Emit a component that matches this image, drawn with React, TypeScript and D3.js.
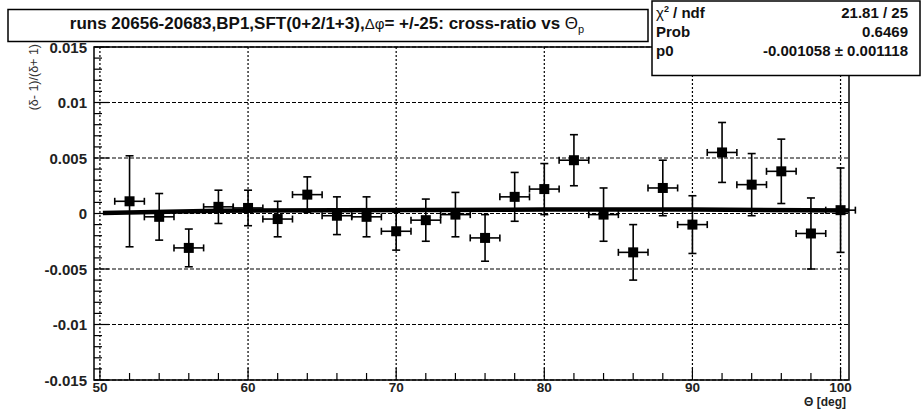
import React from "react";
import * as d3 from "d3";

// bin centres (deg) and measured cross-ratio with errors
const theta = [52, 54, 56, 58, 60, 62, 64, 66, 68, 70, 72, 74, 76, 78, 80, 82, 84, 86, 88, 90, 92, 94, 96, 98, 100];
const ratio = [0.0011, -0.0003, -0.0031, 0.0006, 0.0005, -0.0005, 0.0017, -0.0002, -0.0003, -0.0016, -0.0006, -0.0001, -0.0022, 0.0015, 0.0022, 0.0048, -0.0001, -0.0035, 0.0023, -0.001, 0.0055, 0.0026, 0.0038, -0.0018, 0.0003];
const ratioErr = [0.0041, 0.0021, 0.0017, 0.0015, 0.0016, 0.0016, 0.0016, 0.0017, 0.0018, 0.0017, 0.0019, 0.002, 0.0021, 0.0022, 0.0023, 0.0023, 0.0024, 0.0025, 0.0025, 0.0026, 0.0027, 0.0028, 0.0029, 0.0032, 0.0038];
const thetaErr = 1;

// fitted curve as drawn
const fitX = [50.2, 58, 80, 90, 100.57];
const fitY = [0.00005, 0.00025, 0.00035, 0.00035, 0.00028];

const xMajor = [50, 60, 70, 80, 90, 100];
const yMajor = [-0.015, -0.01, -0.005, 0, 0.005, 0.01, 0.015];
const yLabels = ["-0.015", "-0.01", "-0.005", "0", "0.005", "0.01", "0.015"];

const statNames = ["chi2", "Prob", "p0"];
const statValues = ["21.81 / 25", "0.6469", "-0.001058 \u00b1 0.001118"];

const FONT = "'Liberation Sans', Arial, Helvetica, sans-serif";

export default function App() {
  const left = 94, right = 849, top = 47, bottom = 380;
  const x = d3.scaleLinear().domain([49.6, 100.57]).range([left, right]);
  const y = d3.scaleLinear().domain([-0.015, 0.015]).range([bottom, top]);

  const xMinor = d3.range(50, 100.01, 2);
  const yMinor = d3.range(-15, 15.01, 1).map((v) => v / 1000);

  const fitLine = d3
    .line<number>()
    .x((d, i) => x(fitX[i]))
    .y((d) => y(d));

  return (
    <svg
      width={921}
      height={411}
      style={{ position: "absolute", left: 0, top: 0, background: "#fff" }}
      fontFamily={FONT}
    >
      <rect x={0} y={0} width={921} height={411} fill="#fff" />

      {/* grid */}
      {xMajor.map((v) => (
        <line key={"gx" + v} x1={x(v)} x2={x(v)} y1={top} y2={bottom} stroke="#000" strokeWidth={1.2} strokeDasharray="2,2" />
      ))}
      {yMajor.map((v) => (
        <line key={"gy" + v} x1={left} x2={right} y1={y(v)} y2={y(v)} stroke="#000" strokeWidth={1.2} strokeDasharray="4,2" />
      ))}

      {/* ticks */}
      {xMinor.map((v) => (
        <line key={"tx" + v} x1={x(v)} x2={x(v)} y1={bottom} y2={bottom - (v % 10 === 0 ? 12 : 7)} stroke="#000" strokeWidth={1.2} />
      ))}
      {yMinor.map((v, i) => (
        <line key={"ty" + i} x1={left} x2={left + (i % 5 === 0 ? 15 : 8)} y1={y(v)} y2={y(v)} stroke="#000" strokeWidth={1.2} />
      ))}

      {/* fit */}
      <path d={fitLine(fitY) || ""} fill="none" stroke="#000" strokeWidth={4.5} />

      {/* data points */}
      {theta.map((t, i) => {
        const cx = x(t);
        const cy = y(ratio[i]);
        const yt = y(ratio[i] + ratioErr[i]);
        const yb = y(ratio[i] - ratioErr[i]);
        const xl = x(t - thetaErr);
        const xr = x(t + thetaErr);
        return (
          <g key={"p" + t} stroke="#000" strokeWidth={1.6}>
            <line x1={cx} x2={cx} y1={yt} y2={yb} />
            <line x1={xl} x2={xr} y1={cy} y2={cy} />
            <line x1={cx - 4} x2={cx + 4} y1={yt} y2={yt} />
            <line x1={cx - 4} x2={cx + 4} y1={yb} y2={yb} />
            <line x1={xl} x2={xl} y1={cy - 3.5} y2={cy + 3.5} />
            <line x1={xr} x2={xr} y1={cy - 3.5} y2={cy + 3.5} />
            <rect x={cx - 5} y={cy - 5} width={10} height={10} fill="#000" stroke="none" />
          </g>
        );
      })}

      {/* frame */}
      <rect x={left} y={top} width={right - left} height={bottom - top} fill="none" stroke="#000" strokeWidth={1.5} />

      {/* tick labels */}
      {yMajor.map((v, i) => (
        <text key={"ly" + v} x={87} y={y(v) + 5.5} textAnchor="end" fontSize={15} fontWeight="bold" fill="#222">
          {yLabels[i]}
        </text>
      ))}
      {xMajor.map((v) => (
        <text key={"lx" + v} x={x(v)} y={391.5} textAnchor="middle" fontSize={13.5} fontWeight="bold" fill="#222">
          {v}
        </text>
      ))}

      {/* axis titles */}
      <text x={846} y={406} textAnchor="end" fontSize={12} fontWeight="bold" fill="#222">
        {"\u0398 [deg]"}
      </text>
      <text transform={`translate(38,${top - 3}) rotate(-90)`} textAnchor="end" fontSize={12.5} fill="#333">
        {"(\u03b4- 1)/(\u03b4+ 1)"}
      </text>

      {/* title box */}
      <rect x={8} y={9.5} width={640} height={32} fill="#fff" stroke="#000" strokeWidth={1.5} />
      <text x={327} y={29} textAnchor="middle" fontSize={17} fontWeight="bold" fill="#111">
        <tspan>runs 20656-20683,BP1,SFT(0+2/1+3),</tspan>
        <tspan fontWeight="normal" fontSize={15}>{"\u0394\u03c6"}</tspan>
        <tspan>= +/-25: cross-ratio vs </tspan>
        <tspan fontWeight="normal">{"\u0398"}</tspan>
        <tspan fontWeight="normal" fontSize={11} dy={4}>p</tspan>
      </text>

      {/* stats box */}
      <rect x={652} y={1} width={268} height={74.5} fill="#fff" stroke="#000" strokeWidth={1.5} />
      {statNames.map((n, i) => (
        <g key={"s" + n}>
          <text x={656} y={18 + i * 19} fontSize={15} fontWeight="bold" fill="#111">
            {n === "chi2" ? (
              <>
                <tspan fontWeight="normal">{"\u03c7"}</tspan>
                <tspan fontSize={9} dy={-6}>2</tspan>
                <tspan dy={6}>{" / ndf"}</tspan>
              </>
            ) : (
              n
            )}
          </text>
          <text x={908} y={18 + i * 19} textAnchor="end" fontSize={15} fontWeight="bold" fill="#111">
            {statValues[i]}
          </text>
        </g>
      ))}
    </svg>
  );
}
